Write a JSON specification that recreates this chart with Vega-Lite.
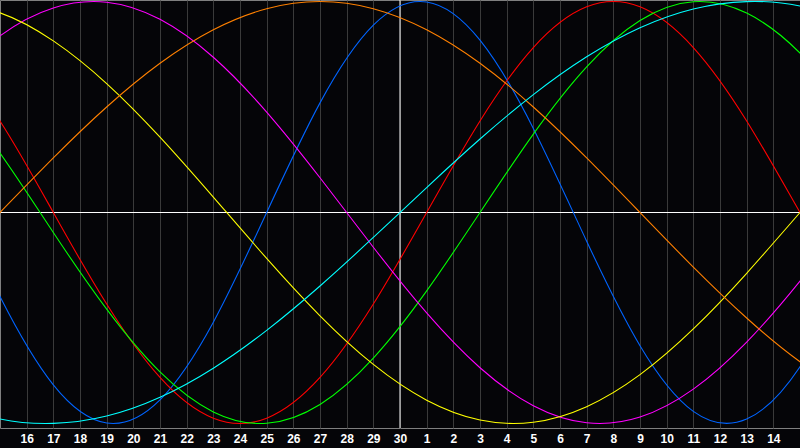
{
  "$schema": "https://vega.github.io/schema/vega-lite/v6.json",
  "width": 800,
  "height": 428,
  "autosize": {"type": "none"},
  "padding": {"left": 0, "top": 0, "right": 0, "bottom": 20},
  "background": "#050508",
  "config": {
    "view": {"stroke": "#7f7f7f", "strokeWidth": 1, "fill": "#050508"},
    "axisX": {
      "labelOverlap": false,
      "labelFlush": false,
      "labelBound": false,
      "labelColor": "#ffffff",
      "labelFont": "Liberation Sans",
      "labelFontWeight": "bold",
      "labelFontSize": 12,
      "labelPadding": 5,
      "domain": false,
      "ticks": false,
      "grid": true,
      "gridColor": "#3a3a3a",
      "gridWidth": 1,
      "gridOpacity": 1,
      "title": null
    }
  },
  "datasets": {
    "curves": [
      {"s": "blue", "t": -17, "v": 0.1362}, {"s": "blue", "t": -15, "v": -0.3984}, {"s": "blue", "t": -13, "v": -0.8170}, {"s": "blue", "t": -11, "v": -0.9977}, {"s": "blue", "t": -9, "v": -0.8879}, {"s": "blue", "t": -7, "v": -0.5196}, {"s": "blue", "t": -5, "v": 0}, {"s": "blue", "t": -3, "v": 0.5196}, {"s": "blue", "t": -1, "v": 0.8879}, {"s": "blue", "t": 1, "v": 0.9977}, {"s": "blue", "t": 3, "v": 0.8170}, {"s": "blue", "t": 5, "v": 0.3984}, {"s": "blue", "t": 7, "v": -0.1362}, {"s": "blue", "t": 9, "v": -0.6311}, {"s": "blue", "t": 11, "v": -0.9423}, {"s": "blue", "t": 13, "v": -0.9791}, {"s": "blue", "t": 15, "v": -0.7309}, {"s": "blue", "t": 17, "v": -0.2698},
      {"s": "red", "t": -17, "v": 0.7818}, {"s": "red", "t": -15, "v": 0.4339}, {"s": "red", "t": -13, "v": 0}, {"s": "red", "t": -11, "v": -0.4339}, {"s": "red", "t": -9, "v": -0.7818}, {"s": "red", "t": -7, "v": -0.9749}, {"s": "red", "t": -5, "v": -0.9749}, {"s": "red", "t": -3, "v": -0.7818}, {"s": "red", "t": -1, "v": -0.4339}, {"s": "red", "t": 1, "v": 0}, {"s": "red", "t": 3, "v": 0.4339}, {"s": "red", "t": 5, "v": 0.7818}, {"s": "red", "t": 7, "v": 0.9749}, {"s": "red", "t": 9, "v": 0.9749}, {"s": "red", "t": 11, "v": 0.7818}, {"s": "red", "t": 13, "v": 0.4339}, {"s": "red", "t": 15, "v": 0}, {"s": "red", "t": 17, "v": -0.4339},
      {"s": "green", "t": -17, "v": 0.6182}, {"s": "green", "t": -15, "v": 0.2817}, {"s": "green", "t": -13, "v": -0.0950}, {"s": "green", "t": -11, "v": -0.4582}, {"s": "green", "t": -9, "v": -0.7557}, {"s": "green", "t": -7, "v": -0.9450}, {"s": "green", "t": -5, "v": -0.9989}, {"s": "green", "t": -3, "v": -0.9097}, {"s": "green", "t": -1, "v": -0.6901}, {"s": "green", "t": 1, "v": -0.3717}, {"s": "green", "t": 3, "v": 0}, {"s": "green", "t": 5, "v": 0.3717}, {"s": "green", "t": 7, "v": 0.6901}, {"s": "green", "t": 9, "v": 0.9097}, {"s": "green", "t": 11, "v": 0.9989}, {"s": "green", "t": 13, "v": 0.9450}, {"s": "green", "t": 15, "v": 0.7557}, {"s": "green", "t": 17, "v": 0.4582},
      {"s": "magenta", "t": -17, "v": 0.6143}, {"s": "magenta", "t": -15, "v": 0.8372}, {"s": "magenta", "t": -13, "v": 0.9694}, {"s": "magenta", "t": -11, "v": 0.9966}, {"s": "magenta", "t": -9, "v": 0.9157}, {"s": "magenta", "t": -7, "v": 0.7358}, {"s": "magenta", "t": -5, "v": 0.4760}, {"s": "magenta", "t": -3, "v": 0.1646}, {"s": "magenta", "t": -1, "v": -0.1646}, {"s": "magenta", "t": 1, "v": -0.4760}, {"s": "magenta", "t": 3, "v": -0.7358}, {"s": "magenta", "t": 5, "v": -0.9157}, {"s": "magenta", "t": 7, "v": -0.9966}, {"s": "magenta", "t": 9, "v": -0.9694}, {"s": "magenta", "t": 11, "v": -0.8372}, {"s": "magenta", "t": 13, "v": -0.6143}, {"s": "magenta", "t": 15, "v": -0.3248}, {"s": "magenta", "t": 17, "v": 0},
      {"s": "yellow", "t": -17, "v": 0.9993}, {"s": "yellow", "t": -15, "v": 0.9464}, {"s": "yellow", "t": -13, "v": 0.8133}, {"s": "yellow", "t": -11, "v": 0.6112}, {"s": "yellow", "t": -9, "v": 0.3573}, {"s": "yellow", "t": -7, "v": 0.0730}, {"s": "yellow", "t": -5, "v": -0.2174}, {"s": "yellow", "t": -3, "v": -0.4894}, {"s": "yellow", "t": -1, "v": -0.7199}, {"s": "yellow", "t": 1, "v": -0.8893}, {"s": "yellow", "t": 3, "v": -0.9834}, {"s": "yellow", "t": 5, "v": -0.9940}, {"s": "yellow", "t": 7, "v": -0.9204}, {"s": "yellow", "t": 9, "v": -0.7686}, {"s": "yellow", "t": 11, "v": -0.5519}, {"s": "yellow", "t": 13, "v": -0.2881}, {"s": "yellow", "t": 15, "v": 0}, {"s": "yellow", "t": 17, "v": 0.2881},
      {"s": "orange", "t": -17, "v": -0.2588}, {"s": "orange", "t": -15, "v": 0}, {"s": "orange", "t": -13, "v": 0.2588}, {"s": "orange", "t": -11, "v": 0.5}, {"s": "orange", "t": -9, "v": 0.7071}, {"s": "orange", "t": -7, "v": 0.8660}, {"s": "orange", "t": -5, "v": 0.9659}, {"s": "orange", "t": -3, "v": 1}, {"s": "orange", "t": -1, "v": 0.9659}, {"s": "orange", "t": 1, "v": 0.8660}, {"s": "orange", "t": 3, "v": 0.7071}, {"s": "orange", "t": 5, "v": 0.5}, {"s": "orange", "t": 7, "v": 0.2588}, {"s": "orange", "t": 9, "v": 0}, {"s": "orange", "t": 11, "v": -0.2588}, {"s": "orange", "t": 13, "v": -0.5}, {"s": "orange", "t": 15, "v": -0.7071}, {"s": "orange", "t": 17, "v": -0.8660},
      {"s": "cyan", "t": -17, "v": -0.9028}, {"s": "cyan", "t": -15, "v": -0.9785}, {"s": "cyan", "t": -13, "v": -0.9996}, {"s": "cyan", "t": -11, "v": -0.9646}, {"s": "cyan", "t": -9, "v": -0.8757}, {"s": "cyan", "t": -7, "v": -0.7379}, {"s": "cyan", "t": -5, "v": -0.5586}, {"s": "cyan", "t": -3, "v": -0.3482}, {"s": "cyan", "t": -1, "v": -0.1183}, {"s": "cyan", "t": 1, "v": 0.1183}, {"s": "cyan", "t": 3, "v": 0.3482}, {"s": "cyan", "t": 5, "v": 0.5586}, {"s": "cyan", "t": 7, "v": 0.7379}, {"s": "cyan", "t": 9, "v": 0.8757}, {"s": "cyan", "t": 11, "v": 0.9646}, {"s": "cyan", "t": 13, "v": 0.9996}, {"s": "cyan", "t": 15, "v": 0.9785}, {"s": "cyan", "t": 17, "v": 0.9028}
    ]
  },
  "layer": [
    {
      "data": {"values": [{"t": 0}]},
      "mark": {"type": "rule", "color": "#ffffff", "strokeWidth": 1},
      "encoding": {
        "x": {
          "field": "t",
          "type": "quantitative",
          "scale": {"domain": [-15, 15], "nice": false, "zero": false},
          "axis": {
            "values": [-14, -13, -12, -11, -10, -9, -8, -7, -6, -5, -4, -3, -2, -1, 0, 1, 2, 3, 4, 5, 6, 7, 8, 9, 10, 11, 12, 13, 14],
            "labelExpr": "datum.value <= 0 ? 30 + datum.value : datum.value",
            "labelOverlap": false,
            "tickCount": 30,
            "grid": true
          }
        }
      }
    },
    {
      "data": {"values": [{"v": 0}]},
      "mark": {"type": "rule", "color": "#ffffff", "strokeWidth": 1},
      "encoding": {
        "y": {"field": "v", "type": "quantitative", "scale": {"domain": [-1.0213, 1.0071], "nice": false, "zero": false}, "axis": null}
      }
    },
    {
      "data": {"name": "curves"},
      "mark": {"type": "line", "interpolate": "natural", "strokeWidth": 1.1, "clip": true},
      "encoding": {
        "x": {
          "field": "t",
          "type": "quantitative",
          "scale": {"domain": [-15, 15], "nice": false, "zero": false},
          "axis": {
            "values": [-14, -13, -12, -11, -10, -9, -8, -7, -6, -5, -4, -3, -2, -1, 0, 1, 2, 3, 4, 5, 6, 7, 8, 9, 10, 11, 12, 13, 14],
            "labelExpr": "datum.value <= 0 ? 30 + datum.value : datum.value",
            "labelOverlap": false,
            "tickCount": 30,
            "grid": true
          }
        },
        "y": {"field": "v", "type": "quantitative"},
        "color": {
          "field": "s",
          "type": "nominal",
          "scale": {
            "domain": ["orange", "yellow", "magenta", "cyan", "green", "red", "blue"],
            "range": ["#ff8000", "#ffff00", "#ff00ff", "#00ffff", "#00ff00", "#ff0000", "#0064ff"]
          },
          "legend": null
        }
      }
    }
  ]
}
